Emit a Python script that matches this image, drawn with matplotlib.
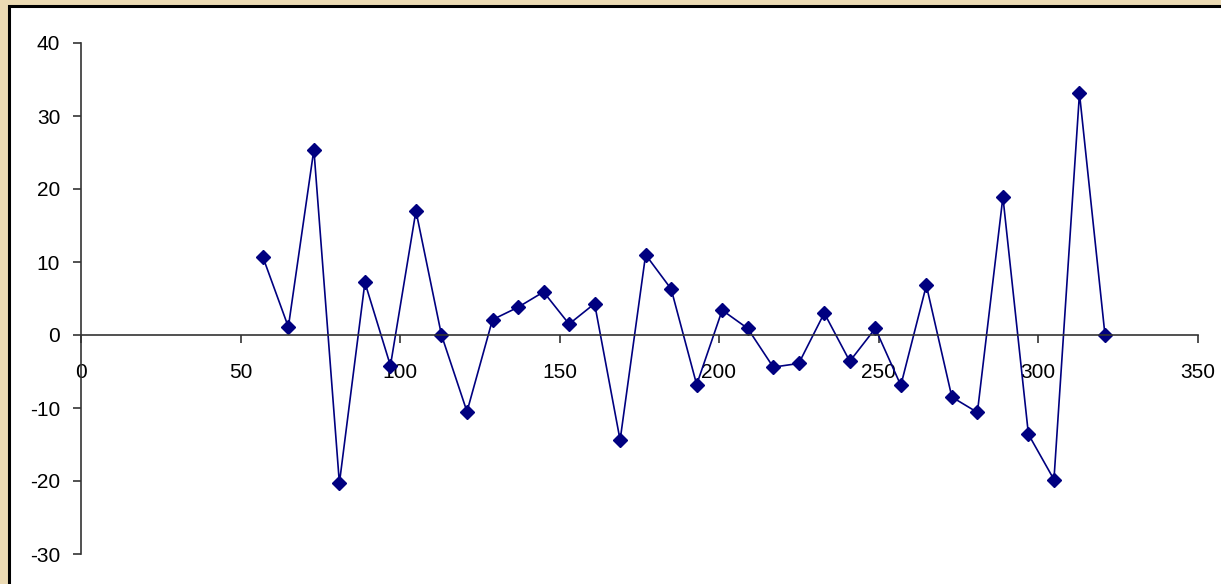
import matplotlib
matplotlib.use("Agg")
import matplotlib.pyplot as plt
from matplotlib.patches import Rectangle

# series read at 8-unit spacing
x_vals = [57, 65, 73, 81, 89, 97, 105, 113, 121, 129, 137, 145, 153, 161, 169, 177, 185,
          193, 201, 209, 217, 225, 233, 241, 249, 257, 265, 273, 281, 289, 297, 305, 313, 321]
y_vals = [10.7, 1.1, 25.4, -20.3, 7.2, -4.2, 17.0, 0.0, -10.5, 2.1, 3.8, 5.9, 1.5, 4.3,
          -14.4, 11.0, 6.3, -6.8, 3.4, 0.9, -4.4, -3.9, 3.0, -3.6, 0.9, -6.9, 6.8, -8.5,
          -10.6, 18.9, -13.6, -19.8, 33.1, 0.0]
x_ticks = [0, 50, 100, 150, 200, 250, 300, 350]
y_ticks = [-30, -20, -10, 0, 10, 20, 30, 40]

plt.rcParams["font.family"] = ["Liberation Sans", "DejaVu Sans"]

W, H = 1221, 584
fig = plt.figure(figsize=(W / 100, H / 100), dpi=100)
fig.patch.set_facecolor("#ebdab3")

# white chart area with black frame on the visible edges
fig.patches.append(Rectangle((9 / W, -0.05), 1.1, (H - 6) / H + 0.05,
                             transform=fig.transFigure, facecolor="white",
                             edgecolor="black", linewidth=2.2, zorder=-5))

ax = fig.add_axes([81 / W, 30 / H, (1197.5 - 81) / W, (554 - 43) / H])
ax.set_facecolor("none")
ax.plot(x_vals, y_vals, color="#000080", lw=1.2, marker="D", ms=7,
        markerfacecolor="#000080", markeredgecolor="#000080", clip_on=False)

ax.set_xlim(0, 350)
ax.set_ylim(-30, 40)
ax.set_xticks(x_ticks)
ax.set_yticks(y_ticks)
ax.set_yticklabels([str(v) for v in y_ticks])

for side in ("top", "right"):
    ax.spines[side].set_visible(False)
ax.spines["bottom"].set_position(("data", 0))
for side in ("left", "bottom"):
    ax.spines[side].set_color("#333333")
    ax.spines[side].set_linewidth(1.2)

ax.tick_params(axis="x", direction="out", length=6, width=1.2, color="#333333",
               labelsize=15, pad=14)
ax.tick_params(axis="y", direction="out", length=6, width=1.2, color="#333333",
               labelsize=15, pad=9)

fig.savefig("out.png", dpi=100, facecolor=fig.get_facecolor())
